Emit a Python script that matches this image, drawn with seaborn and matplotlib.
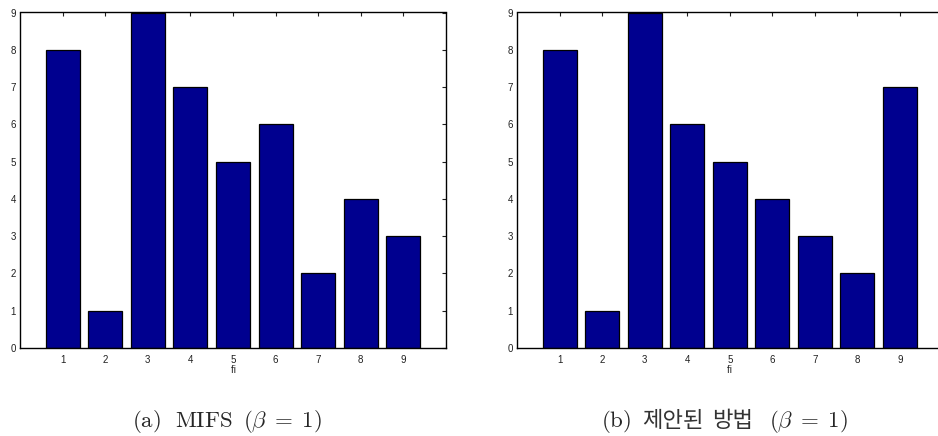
import matplotlib
matplotlib.use("Agg")
import matplotlib.pyplot as plt
import seaborn as sns
import pandas as pd

# Selection rank of each feature fi for the two methods
features = [1, 2, 3, 4, 5, 6, 7, 8, 9]
mifs_rank = [8, 1, 9, 7, 5, 6, 2, 4, 3]
proposed_rank = [8, 1, 9, 6, 5, 4, 3, 2, 7]
y_ticks = [0, 1, 2, 3, 4, 5, 6, 7, 8, 9]

sns.set_theme(style="white")
plt.rcParams["font.family"] = ["Liberation Sans", "DejaVu Sans"]
plt.rcParams["mathtext.fontset"] = "cm"

W, H = 938, 436
fig = plt.figure(figsize=(W / 100, H / 100), dpi=100)

bar_color = "#00008F"


def panel(left_px, width_px, ranks):
    ax = fig.add_axes([left_px / W, (H - 348) / H, width_px / W, 335.5 / H])
    df = pd.DataFrame({"fi": features, "rank": ranks})
    sns.barplot(data=df, x="fi", y="rank", native_scale=True, width=0.8,
                color=bar_color, edgecolor="black", linewidth=0.9,
                saturation=1, ax=ax)
    ax.set_xlim(0, 10)
    ax.set_ylim(0, 9)
    ax.set_xticks(features)
    ax.set_yticks(y_ticks)
    ax.set_xticklabels([str(f) for f in features])
    ax.set_yticklabels([str(v) for v in y_ticks])
    ax.tick_params(direction="in", length=3, width=0.8, labelsize=7,
                   colors="#202020", top=True, right=True, pad=5)
    ax.tick_params(axis="y", pad=3)
    for s in ax.spines.values():
        s.set_visible(True)
        s.set_color("black")
        s.set_linewidth(1.0)
    ax.set_xlabel("f\u200bi", fontsize=7, labelpad=0, color="#202020")
    ax.set_ylabel("")
    return ax


panel(20, 426, mifs_rank)
panel(517, 425.5, proposed_rank)

cap_y = 1 - 427 / H
cap_size = 16.5
kr_size = 16
beta_text = r"$(\beta\;=\;1)$"
kr_family = ["Noto Sans CJK KR", "DejaVu Sans"]

# (a) caption
fig.text(132 / W, cap_y, r"$\mathrm{(a)}$", fontsize=cap_size,
         ha="left", va="baseline")
fig.text(175 / W, cap_y, r"$\mathrm{MIFS}$", fontsize=cap_size,
         ha="left", va="baseline")
fig.text(322 / W, cap_y, beta_text, fontsize=cap_size,
         ha="right", va="baseline")

# (b) caption; the Korean words use a CJK font
fig.text(601 / W, cap_y, r"$\mathrm{(b)}$", fontsize=cap_size,
         ha="left", va="baseline")
fig.text(642 / W, cap_y, "제안된", fontsize=kr_size, ha="left",
         va="baseline", color="#333333", weight="light", family=kr_family)
fig.text(712 / W, cap_y, "방법", fontsize=kr_size, ha="left",
         va="baseline", color="#333333", weight="light", family=kr_family)
fig.text(848 / W, cap_y, beta_text, fontsize=cap_size,
         ha="right", va="baseline")

fig.savefig("out.png", dpi=100)
